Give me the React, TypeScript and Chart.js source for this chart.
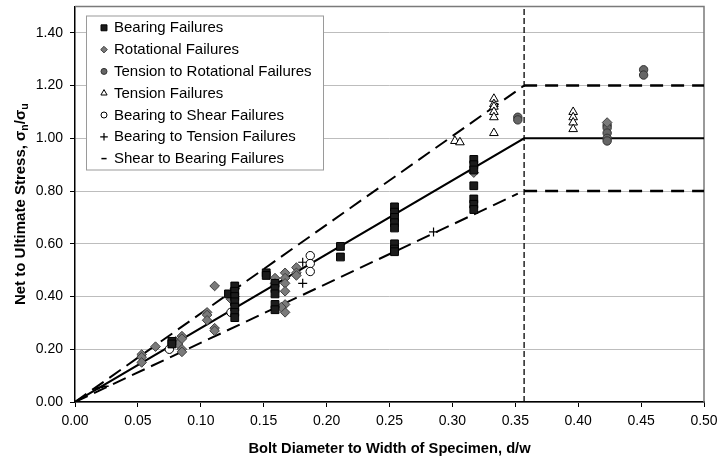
import { useEffect, useRef } from 'react';
import { Chart, registerables } from 'chart.js';
import { drawPoint } from 'chart.js/helpers';

Chart.register(...registerables);

// ---- data (d/w, net-to-ultimate stress) ----
const bearingFailures: [number, number][] = [
  [0.077, 0.23], [0.077, 0.22], [0.122, 0.41],
  [0.127, 0.44], [0.127, 0.42], [0.127, 0.40], [0.127, 0.38], [0.127, 0.36], [0.127, 0.34], [0.127, 0.32],
  [0.152, 0.49], [0.152, 0.48],
  [0.159, 0.45], [0.159, 0.43], [0.159, 0.41], [0.159, 0.37], [0.159, 0.35],
  [0.211, 0.59], [0.211, 0.55],
  [0.254, 0.74], [0.254, 0.72], [0.254, 0.70], [0.254, 0.68], [0.254, 0.66], [0.254, 0.60], [0.254, 0.58], [0.254, 0.57],
  [0.317, 0.92], [0.317, 0.90], [0.317, 0.88], [0.317, 0.82], [0.317, 0.77], [0.317, 0.75], [0.317, 0.73],
];
const rotationalFailures: [number, number][] = [
  [0.053, 0.18], [0.053, 0.17], [0.053, 0.15], [0.064, 0.21], [0.080, 0.23], [0.082, 0.22],
  [0.085, 0.25], [0.085, 0.24], [0.085, 0.20], [0.085, 0.19],
  [0.105, 0.34], [0.105, 0.33], [0.105, 0.31], [0.111, 0.44], [0.111, 0.28], [0.111, 0.27],
  [0.127, 0.43], [0.127, 0.40], [0.127, 0.37], [0.124, 0.39],
  [0.159, 0.47], [0.159, 0.45],
  [0.167, 0.49], [0.167, 0.47], [0.167, 0.45], [0.167, 0.42], [0.167, 0.37], [0.167, 0.34], [0.164, 0.36],
  [0.176, 0.51], [0.176, 0.49], [0.176, 0.48],
  [0.317, 0.87], [0.423, 1.06],
];
const tensionToRotational: [number, number][] = [
  [0.352, 1.08], [0.352, 1.07],
  [0.423, 1.05], [0.423, 1.04], [0.423, 1.02], [0.423, 1.00], [0.423, 0.99],
  [0.452, 1.26], [0.452, 1.24],
];
const tensionFailures: [number, number][] = [
  [0.333, 1.15], [0.333, 1.13], [0.333, 1.12], [0.333, 1.10], [0.333, 1.08], [0.333, 1.02],
  [0.302, 0.99], [0.306, 0.985],
  [0.396, 1.10], [0.396, 1.08], [0.396, 1.06], [0.396, 1.035],
];
const bearingToShear: [number, number][] = [
  [0.075, 0.20], [0.124, 0.34], [0.187, 0.555], [0.187, 0.525], [0.187, 0.495],
];
const bearingToTension: [number, number][] = [
  [0.181, 0.53], [0.181, 0.45], [0.285, 0.645],
];
const shearToBearing: [number, number][] = [
  [0.017, 0.05], [0.020, 0.055], [0.024, 0.06],
];

// design curves
const meanCurve: [number, number][] = [[0, 0], [0.357, 1.0], [0.5, 1.0]];
const upperSlope: [number, number][] = [[0, 0], [0.357, 1.2]];
const upperFlat: [number, number][] = [[0.357, 1.2], [0.5, 1.2]];
const lowerSlope: [number, number][] = [[0, 0], [0.352, 0.79]];
const lowerFlat: [number, number][] = [[0.357, 0.8], [0.5, 0.8]];
const limitLine: [number, number][] = [[0.357, 0], [0.357, 1.5]];

const xTicks = [0, 0.05, 0.1, 0.15, 0.2, 0.25, 0.3, 0.35, 0.4, 0.45, 0.5];
const yTicks = [0, 0.2, 0.4, 0.6, 0.8, 1.0, 1.2, 1.4];

const xTitle = 'Bolt Diameter to Width of Specimen, d/w';
const yTitleMain = 'Net to Ultimate Stress, σ';

const FONT = '"Liberation Sans", Arial, sans-serif';

const pts = (a: [number, number][]) => a.map(([x, y]) => ({ x, y }));

const boxLegend = {
  id: 'boxLegend',
  afterDatasetsDraw(chart: any) {
    const { ctx, chartArea } = chart;
    const left = chartArea.left + 11;
    const top = chartArea.top + 9;
    const w = 237;
    const h = 154;
    ctx.save();
    ctx.fillStyle = '#ffffff';
    ctx.fillRect(left, top, w, h);
    ctx.strokeStyle = '#9a9a9a';
    ctx.lineWidth = 1;
    ctx.strokeRect(left + 0.5, top + 0.5, w, h);
    const items = chart.data.datasets.filter((d: any) => d.inLegend);
    items.forEach((d: any, i: number) => {
      const cy = top + 12.3 + i * 21.8;
      const cx = left + 18;
      ctx.fillStyle = d.backgroundColor;
      ctx.strokeStyle = d.borderColor;
      ctx.lineWidth = d.borderWidth;
      drawPoint(ctx, { pointStyle: d.pointStyle, radius: d.legendRadius, rotation: 0, borderWidth: d.borderWidth } as any, cx, cy);
      ctx.fillStyle = '#000';
      ctx.font = `15px ${FONT}`;
      ctx.textBaseline = 'middle';
      ctx.textAlign = 'left';
      ctx.fillText(d.label, left + 28, cy + 0.5);
    });
    ctx.restore();
  },
};

const frameAndTitle = {
  id: 'frameAndTitle',
  beforeDatasetsDraw(chart: any) {
    const { ctx, chartArea } = chart;
    ctx.save();
    ctx.strokeStyle = '#7a7a7a';
    ctx.lineWidth = 1.5;
    ctx.beginPath();
    ctx.moveTo(chartArea.left, chartArea.top);
    ctx.lineTo(chartArea.right, chartArea.top);
    ctx.lineTo(chartArea.right, chartArea.bottom);
    ctx.stroke();
    ctx.restore();
  },
  afterDraw(chart: any) {
    const { ctx, chartArea } = chart;
    const cy = (chartArea.top + chartArea.bottom) / 2;
    const big = `bold 15px ${FONT}`;
    const small = `bold 10.5px ${FONT}`;
    const parts: [string, string, number][] = [
      [yTitleMain, big, 0],
      ['n', small, 4],
      ['/σ', big, 0],
      ['u', small, 4],
    ];
    ctx.save();
    ctx.translate(21, cy);
    ctx.rotate(-Math.PI / 2);
    ctx.fillStyle = '#000';
    ctx.textBaseline = 'middle';
    ctx.textAlign = 'left';
    let total = 0;
    const widths = parts.map(([t, f]) => {
      ctx.font = f;
      const wd = ctx.measureText(t).width;
      total += wd;
      return wd;
    });
    let x = -total / 2;
    parts.forEach(([t, f, dy], i) => {
      ctx.font = f;
      ctx.fillText(t, x, dy);
      x += widths[i];
    });
    ctx.restore();
  },
};

export default function App() {
  const ref = useRef<HTMLCanvasElement | null>(null);

  useEffect(() => {
    if (!ref.current) return;
    const scatter = (label: string, data: [number, number][], style: any) => ({
      type: 'scatter' as const,
      label,
      data: pts(data),
      showLine: false,
      inLegend: true,
      ...style,
    });
    const line = (data: [number, number][], width: number, dash: number[]) => ({
      type: 'scatter' as const,
      label: '',
      data: pts(data),
      showLine: true,
      pointRadius: 0,
      pointHoverRadius: 0,
      borderColor: '#000',
      backgroundColor: '#000',
      borderWidth: width,
      borderDash: dash,
      inLegend: false,
    });

    const chart = new Chart(ref.current, {
      type: 'scatter',
      data: {
        datasets: [
          scatter('Bearing Failures', bearingFailures, {
            pointStyle: 'rect', pointRadius: 5.5, legendRadius: 4.2,
            backgroundColor: '#1c1c1c', borderColor: '#000', borderWidth: 1,
          }),
          scatter('Rotational Failures', rotationalFailures, {
            pointStyle: 'rectRot', pointRadius: 4.8, legendRadius: 3.3,
            backgroundColor: '#7a7a7a', borderColor: '#404040', borderWidth: 1,
          }),
          scatter('Tension to Rotational Failures', tensionToRotational, {
            pointStyle: 'circle', pointRadius: 4.2, legendRadius: 3,
            backgroundColor: '#666666', borderColor: '#333', borderWidth: 1,
          }),
          scatter('Tension Failures', tensionFailures, {
            pointStyle: 'triangle', pointRadius: 5, legendRadius: 3.6,
            backgroundColor: '#ffffff', borderColor: '#000', borderWidth: 1,
          }),
          scatter('Bearing to Shear Failures', bearingToShear, {
            pointStyle: 'circle', pointRadius: 4.2, legendRadius: 3,
            backgroundColor: '#ffffff', borderColor: '#000', borderWidth: 1,
          }),
          scatter('Bearing to Tension Failures', bearingToTension, {
            pointStyle: 'cross', pointRadius: 4.5, legendRadius: 3.8,
            backgroundColor: '#000', borderColor: '#000', borderWidth: 1.2,
          }),
          scatter('Shear to Bearing Failures', shearToBearing, {
            pointStyle: 'line', pointRadius: 3.5, legendRadius: 2.6,
            backgroundColor: '#000', borderColor: '#000', borderWidth: 1.5,
          }),
          line(meanCurve, 2, []),
          line(upperSlope, 2, [14, 7]),
          line(upperFlat, 2.5, [13, 8]),
          line(lowerSlope, 2, [14, 7]),
          line(lowerFlat, 2.5, [13, 8]),
          line(limitLine, 1.3, [6, 3]),
        ] as any,
      },
      options: {
        animation: false,
        responsive: true,
        maintainAspectRatio: false,
        events: [],
        layout: { padding: { top: 6, right: 15, left: 0, bottom: 0 } },
        plugins: {
          legend: { display: false },
          tooltip: { enabled: false },
        },
        scales: {
          x: {
            type: 'linear',
            min: 0,
            max: 0.5,
            afterFit: (s: any) => {
              s.height = 60;
              s.paddingLeft = 0;
              s.paddingRight = 0;
            },
            afterBuildTicks: (s: any) => { s.ticks = xTicks.map((v) => ({ value: v })); },
            ticks: {
              color: '#000',
              font: { family: FONT, size: 14 },
              padding: 6,
              maxRotation: 0,
              callback: (v: any) => Number(v).toFixed(2),
            },
            grid: { drawOnChartArea: false, drawTicks: true, tickLength: 5, tickColor: '#000', tickWidth: 1 },
            border: { color: '#000', width: 1.5 },
            title: {
              display: true,
              text: xTitle,
              color: '#000',
              font: { family: FONT, size: 14.7, weight: 'bold' },
              padding: { top: 0, bottom: 4 },
            },
          },
          y: {
            type: 'linear',
            min: 0,
            max: 1.5,
            afterFit: (s: any) => {
              s.width = 75;
              s.paddingTop = 0;
              s.paddingBottom = 0;
            },
            afterBuildTicks: (s: any) => { s.ticks = yTicks.map((v) => ({ value: v })); },
            ticks: {
              color: '#000',
              font: { family: FONT, size: 14 },
              padding: 7,
              callback: (v: any) => Number(v).toFixed(2),
            },
            grid: { color: '#bdbdbd', lineWidth: 1, drawTicks: true, tickLength: 5, tickColor: '#000', tickWidth: 1 },
            border: { color: '#000', width: 1.5 },
          },
        },
      } as any,
      plugins: [frameAndTitle, boxLegend],
    });
    return () => chart.destroy();
  }, []);

  return (
    <div style={{ position: 'absolute', left: 0, top: 0, width: 719, height: 462, background: '#fff' }}>
      <canvas ref={ref} />
    </div>
  );
}
